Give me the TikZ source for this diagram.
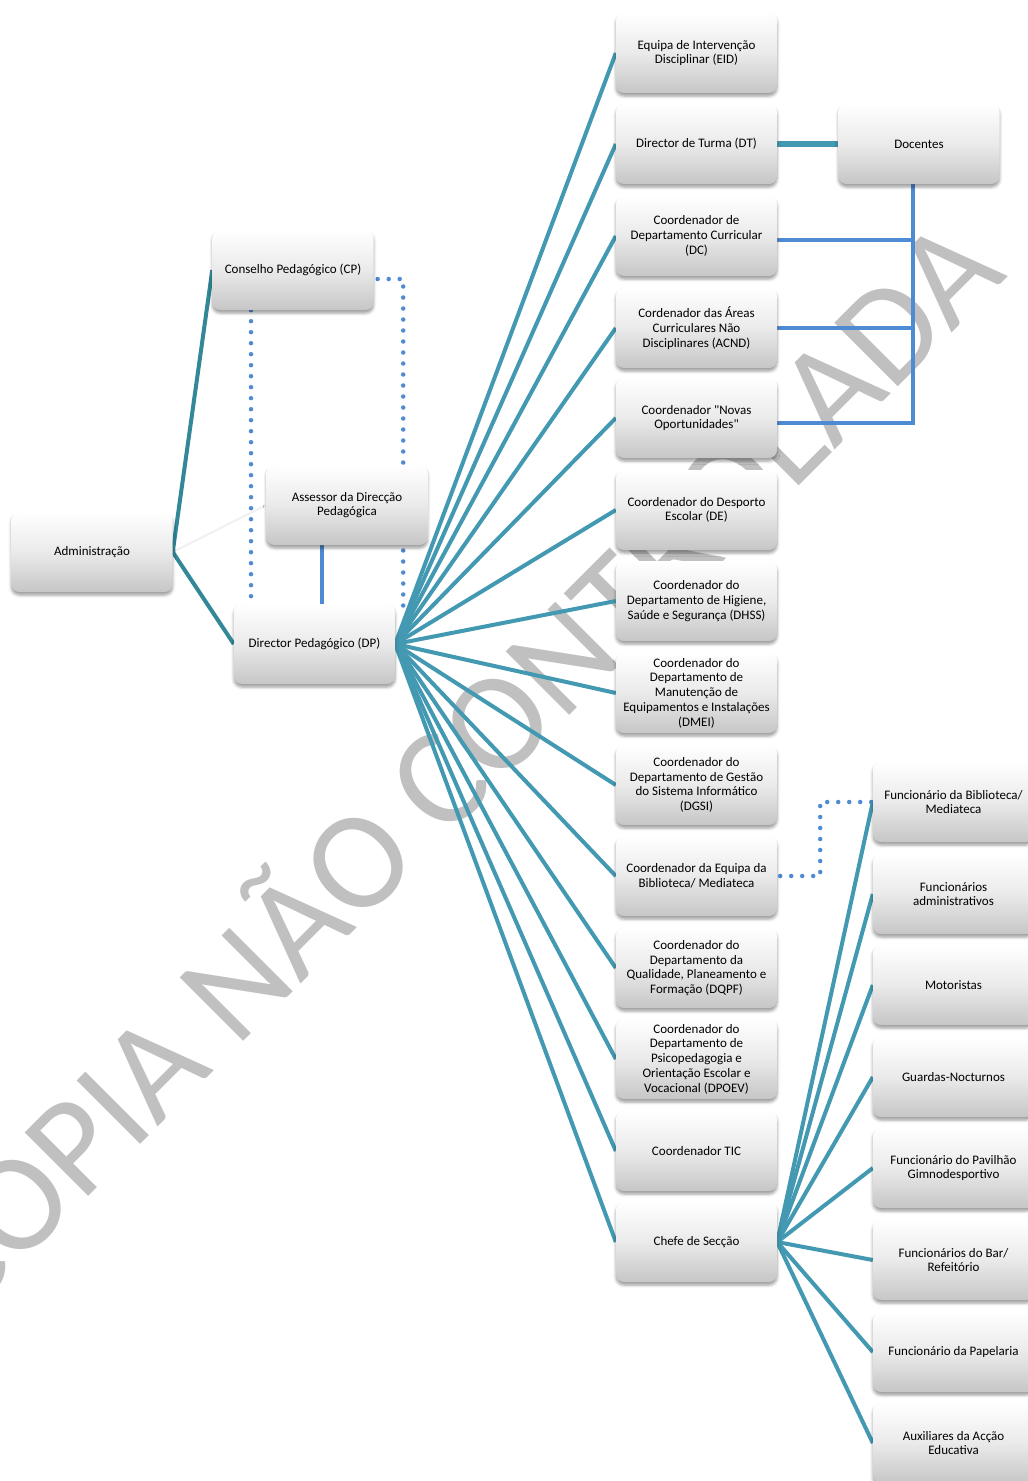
\documentclass[tikz,border=0pt]{standalone}
\usepackage{fontspec}
\setmainfont{Carlito}[Ligatures=TeXOff]
\usetikzlibrary{shadows.blur,calc}
\pgfdeclarelayer{edges}
\pgfsetlayers{edges,main}

\definecolor{tealA}{RGB}{50,135,152}
\definecolor{tealF}{RGB}{66,153,177}
\definecolor{blueL}{RGB}{79,138,212}
\definecolor{wmgray}{RGB}{192,192,192}
\definecolor{boxmid}{RGB}{234,234,234}
\definecolor{boxbot}{RGB}{198,198,198}

\begin{document}
\begin{tikzpicture}[x=1bp,y=-1bp,
  orgbox/.style={rounded corners=8bp, minimum width=161bp, minimum height=80bp,
    inner sep=2bp, align=center, font=\fontsize{13bp}{14.7bp}\selectfont,
    top color=white, bottom color=boxbot, middle color=boxmid,
    blur shadow={shadow xshift=0bp, shadow yshift=-3bp, shadow blur radius=3bp, shadow opacity=40}},
  adminline/.style={draw=tealA, line width=4bp},
  fan/.style={draw=tealF, line width=4bp},
  thickteal/.style={draw=tealF, line width=6.5bp},
  bus/.style={draw=blueL, line width=4.5bp},
  dotline/.style={draw=blueL, line width=4.5bp, line cap=round, dash pattern=on 0bp off 11bp},
  faint/.style={draw=black!6, line width=2bp},
  wmtext/.style={rotate=45, anchor=base, inner sep=0bp, text=wmgray,
    font=\fontsize{140bp}{140bp}\selectfont}]

\useasboundingbox (0,0) rectangle (1027,1481);

% left group
\node[orgbox] (adm) at (92,552) {Administração};
\node[orgbox] (cp)  at (293,270) {Conselho Pedagógico (CP)};
\node[orgbox] (asr) at (347,505) {Assessor da Direcção\\Pedagógica};
\node[orgbox] (dp)  at (314.5,644) {Director Pedagógico (DP)};

% middle column
\node[orgbox] (eid)   at (696.5,53)   {Equipa de Intervenção\\Disciplinar (EID)};
\node[orgbox] (dt)    at (696.5,144)  {Director de Turma (DT)};
\node[orgbox] (dc)    at (696.5,236)  {Coordenador de\\Departamento Curricular\\(DC)};
\node[orgbox] (acnd)  at (696.5,328)  {Cordenador das Áreas\\Curriculares Não\\Disciplinares (ACND)};
\node[orgbox] (nov)   at (696.5,418)  {Coordenador "Novas\\Oportunidades"};
\node[orgbox] (de)    at (696.5,510)  {Coordenador do Desporto\\Escolar (DE)};
\node[orgbox] (dhss)  at (696.5,601)  {Coordenador do\\Departamento de Higiene,\\Saúde e Segurança (DHSS)};
\node[orgbox] (dmei)  at (696.5,693)  {Coordenador do\\Departamento de\\Manutenção de\\Equipamentos e Instalações\\(DMEI)};
\node[orgbox] (dgsi)  at (696.5,785)  {Coordenador do\\Departamento de Gestão\\do Sistema Informático\\(DGSI)};
\node[orgbox] (bib)   at (696.5,876)  {Coordenador da Equipa da\\Biblioteca/ Mediateca};
\node[orgbox] (dqpf)  at (696.5,968)  {Coordenador do\\Departamento da\\Qualidade, Planeamento e\\Formação (DQPF)};
\node[orgbox] (dpoev) at (696.5,1059) {Coordenador do\\Departamento de\\Psicopedagogia e\\Orientação Escolar e\\Vocacional (DPOEV)};
\node[orgbox] (tic)   at (696.5,1151) {Coordenador TIC};
\node[orgbox] (chefe) at (696.5,1242) {Chefe de Secção};

\node[orgbox] (doc) at (919,144) {Docentes};

% right column
\node[orgbox] (fb)    at (953.5,802)  {Funcionário da Biblioteca/\\Mediateca};
\node[orgbox] (fadm)  at (953.5,894)  {Funcionários\\administrativos};
\node[orgbox] (mot)   at (953.5,985)  {Motoristas};
\node[orgbox] (guard) at (953.5,1077) {Guardas-Nocturnos};
\node[orgbox] (pav)   at (953.5,1168) {Funcionário do Pavilhão\\Gimnodesportivo};
\node[orgbox] (bar)   at (953.5,1260) {Funcionários do Bar/\\Refeitório};
\node[orgbox] (pap)   at (953.5,1352) {Funcionário da Papelaria};
\node[orgbox] (aux)   at (953.5,1443) {Auxiliares da Acção\\Educativa};

\begin{pgfonlayer}{edges}
  % watermark, beneath the connectors
  \node[wmtext] (wmark) at (486,799) {CÓPIA NÃO CONTROLADA};

  % administration
  \draw[faint] (adm.east) -- (asr.west);
  \draw[adminline] (adm.east) -- (cp.west);
  \draw[adminline] (adm.east) -- (dp.west);

  % pedagogical council links
  \draw[dotline] ([xshift=-42bp]cp.south) -- ([xshift=-42bp]cp.south |- dp.north);
  \draw[dotline] ([yshift=-9bp,xshift=4bp]cp.east) -| ([xshift=8bp,yshift=-3bp]dp.north east);
  \draw[bus] ([xshift=-25bp]asr.south) -- ([xshift=-25bp]asr.south |- dp.north);

  % director fan
  \foreach \n in {eid,dt,dc,acnd,nov,de,dhss,dmei,dgsi,bib,dqpf,dpoev,tic,chefe}
    \draw[fan] (dp.east) -- (\n.west);

  % teachers
  \draw[thickteal] (dt.east) -- (doc.west);
  \coordinate (busx) at ([xshift=-6bp]doc.south);
  \draw[bus] (busx) |- ([yshift=-5bp]nov.east);
  \draw[bus] ([yshift=-4bp]dc.east) -- ([yshift=-4bp]dc.east -| busx);
  \draw[bus] (acnd.east) -- (acnd.east -| busx);

  % library link
  \draw[dotline] ([xshift=3bp]bib.east) -- ++(40,0) |- (fb.west);

  % section head fan
  \foreach \n in {fb,fadm,mot,guard,pav,bar,pap,aux}
    \draw[fan] (chefe.east) -- (\n.west);
\end{pgfonlayer}
\end{tikzpicture}
\end{document}
